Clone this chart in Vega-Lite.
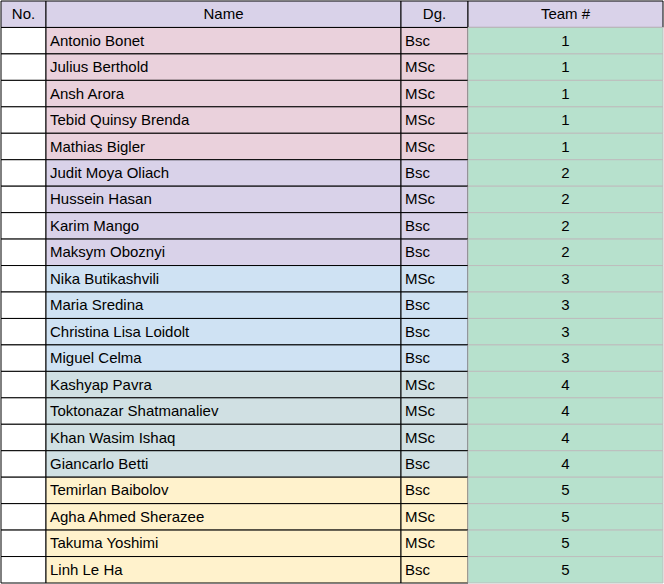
{
  "$schema": "https://vega.github.io/schema/vega-lite/v6.json",
  "description": "team assignment table",
  "width": 664,
  "height": 584,
  "autosize": {"type": "fit", "contains": "padding"},
  "padding": 0,
  "background": "white",
  "config": {"view": {"stroke": null}},
  "data": {
    "values": [
      {"r": 0, "no": "No.", "name": "Name", "dg": "Dg.", "team": "Team #", "t": "head"},
      {"r": 1, "no": "", "name": "Antonio Bonet", "dg": "Bsc", "team": "1", "t": "1"},
      {"r": 2, "no": "", "name": "Julius Berthold", "dg": "MSc", "team": "1", "t": "1"},
      {"r": 3, "no": "", "name": "Ansh Arora", "dg": "MSc", "team": "1", "t": "1"},
      {"r": 4, "no": "", "name": "Tebid Quinsy Brenda", "dg": "MSc", "team": "1", "t": "1"},
      {"r": 5, "no": "", "name": "Mathias Bigler", "dg": "MSc", "team": "1", "t": "1"},
      {"r": 6, "no": "", "name": "Judit Moya Oliach", "dg": "Bsc", "team": "2", "t": "2"},
      {"r": 7, "no": "", "name": "Hussein Hasan", "dg": "MSc", "team": "2", "t": "2"},
      {"r": 8, "no": "", "name": "Karim Mango", "dg": "Bsc", "team": "2", "t": "2"},
      {"r": 9, "no": "", "name": "Maksym Oboznyi", "dg": "Bsc", "team": "2", "t": "2"},
      {"r": 10, "no": "", "name": "Nika Butikashvili", "dg": "MSc", "team": "3", "t": "3"},
      {"r": 11, "no": "", "name": "Maria Sredina", "dg": "Bsc", "team": "3", "t": "3"},
      {"r": 12, "no": "", "name": "Christina Lisa Loidolt", "dg": "Bsc", "team": "3", "t": "3"},
      {"r": 13, "no": "", "name": "Miguel Celma", "dg": "Bsc", "team": "3", "t": "3"},
      {"r": 14, "no": "", "name": "Kashyap Pavra", "dg": "MSc", "team": "4", "t": "4"},
      {"r": 15, "no": "", "name": "Toktonazar Shatmanaliev", "dg": "MSc", "team": "4", "t": "4"},
      {"r": 16, "no": "", "name": "Khan Wasim Ishaq", "dg": "MSc", "team": "4", "t": "4"},
      {"r": 17, "no": "", "name": "Giancarlo Betti", "dg": "Bsc", "team": "4", "t": "4"},
      {"r": 18, "no": "", "name": "Temirlan Baibolov", "dg": "Bsc", "team": "5", "t": "5"},
      {"r": 19, "no": "", "name": "Agha Ahmed Sherazee", "dg": "MSc", "team": "5", "t": "5"},
      {"r": 20, "no": "", "name": "Takuma Yoshimi", "dg": "MSc", "team": "5", "t": "5"},
      {"r": 21, "no": "", "name": "Linh Le Ha", "dg": "Bsc", "team": "5", "t": "5"}
    ]
  },
  "transform": [
    {"fold": ["no", "name", "dg", "team"], "as": ["col", "value"]},
    {"calculate": "datum.col == 'no' ? 1 : datum.col == 'name' ? 46 : datum.col == 'dg' ? 401 : 468", "as": "x0"},
    {"calculate": "datum.col == 'no' ? 46 : datum.col == 'name' ? 401 : datum.col == 'dg' ? 468 : 663", "as": "x1"},
    {"calculate": "(datum.x0 + datum.x1) / 2", "as": "xm"},
    {"calculate": "datum.t == 'head' ? 'head' : datum.col == 'no' ? 'blank' : datum.col == 'team' ? 'team' : datum.t", "as": "fillcat"},
    {"calculate": "datum.t != 'head' && (datum.col == 'name' || datum.col == 'dg')", "as": "left"}
  ],
  "encoding": {
    "y": {"field": "r", "type": "ordinal", "axis": null, "scale": {"paddingInner": 0, "paddingOuter": 0}}
  },
  "layer": [
    {
      "mark": {"type": "rect", "strokeWidth": 1},
      "encoding": {
        "x": {"field": "x0", "type": "quantitative", "axis": null, "scale": {"domain": [0, 664], "nice": false, "zero": false}},
        "x2": {"field": "x1"},
        "fill": {
          "field": "fillcat", "type": "nominal", "legend": null,
          "scale": {
            "domain": ["head", "blank", "team", "1", "2", "3", "4", "5"],
            "range": ["#d9d2e9", "#ffffff", "#b7e1cd", "#ead1dc", "#d9d2e9", "#cfe2f3", "#d0e0e3", "#fff2cc"]
          }
        },
        "stroke": {
          "condition": {"test": "datum.col == 'team' && datum.t != 'head'", "value": "#bdbdbd"},
          "value": "#000000"
        }
      }
    },
    {
      "transform": [{"filter": "datum.left"}],
      "mark": {"type": "text", "align": "left", "dx": 4, "font": "Liberation Sans", "fontSize": 15, "color": "#000"},
      "encoding": {
        "x": {"field": "x0", "type": "quantitative"},
        "text": {"field": "value"}
      }
    },
    {
      "transform": [{"filter": "!datum.left"}],
      "mark": {"type": "text", "align": "center", "font": "Liberation Sans", "fontSize": 15, "color": "#000"},
      "encoding": {
        "x": {"field": "xm", "type": "quantitative"},
        "text": {"field": "value"},
        "fontWeight": {"condition": {"test": "datum.t == 'head'", "value": "bold"}, "value": "normal"}
      }
    }
  ]
}
